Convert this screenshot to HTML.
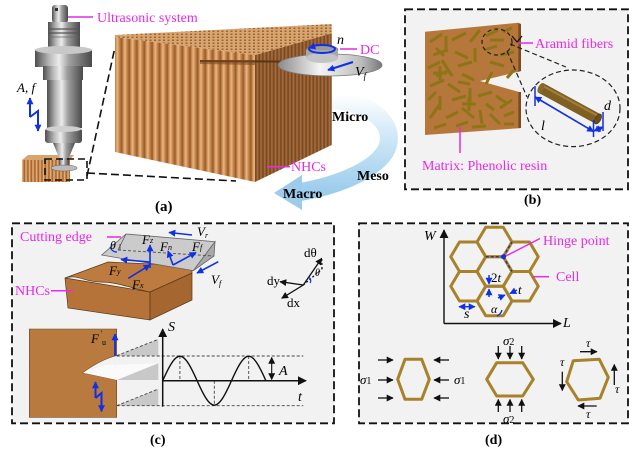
<!DOCTYPE html>
<html><head><meta charset="utf-8"><style>
html,body{margin:0;padding:0;background:#fff;}
svg{display:block;}
text{font-family:"Liberation Serif",serif;}
</style></head><body>
<svg width="639" height="452" viewBox="0 0 639 452" xmlns="http://www.w3.org/2000/svg">
<defs>
<marker id="ab" viewBox="0 0 10 10" refX="9" refY="5" markerUnits="userSpaceOnUse" markerWidth="7" markerHeight="7" orient="auto-start-reverse"><path d="M0,0L10,5L0,10z" fill="#1030e8"/></marker>
<marker id="ak" viewBox="0 0 10 10" refX="9" refY="5" markerUnits="userSpaceOnUse" markerWidth="7" markerHeight="7" orient="auto-start-reverse"><path d="M0,0L10,5L0,10z" fill="#111"/></marker>
<marker id="ak2" viewBox="0 0 10 10" refX="9" refY="5" markerUnits="userSpaceOnUse" markerWidth="9" markerHeight="9" orient="auto-start-reverse"><path d="M0,0L10,5L0,10z" fill="#111"/></marker>
<linearGradient id="metal" x1="0" x2="1" y1="0" y2="0">
<stop offset="0" stop-color="#4e4e4e"/><stop offset=".25" stop-color="#b8b8b8"/><stop offset=".42" stop-color="#ececec"/><stop offset=".6" stop-color="#a0a0a0"/><stop offset=".85" stop-color="#6a6a6a"/><stop offset="1" stop-color="#4a4a4a"/></linearGradient>
<linearGradient id="disk" x1="0" x2="1" y1="0" y2="0">
<stop offset="0" stop-color="#8a8a8a"/><stop offset=".4" stop-color="#f4f4f4"/><stop offset=".8" stop-color="#bdbdbd"/><stop offset="1" stop-color="#777"/></linearGradient>
<linearGradient id="stf" x1="0" x2="1" y1="0" y2="0">
<stop offset="0" stop-color="#8e5426"/><stop offset=".2" stop-color="#c98a4e"/><stop offset=".45" stop-color="#eab784"/><stop offset=".7" stop-color="#c7864a"/><stop offset="1" stop-color="#9a5e2d"/></linearGradient>
<linearGradient id="str" x1="0" x2="1" y1="0" y2="0">
<stop offset="0" stop-color="#7a4520"/><stop offset=".5" stop-color="#c58448"/><stop offset="1" stop-color="#8a5028"/></linearGradient>
<pattern id="pf" width="7.6" height="10" patternUnits="userSpaceOnUse"><rect width="7.6" height="10" fill="url(#stf)"/></pattern>
<pattern id="pr" width="3.6" height="10" patternUnits="userSpaceOnUse"><rect width="3.6" height="10" fill="url(#str)"/></pattern>
<pattern id="pt" width="4.5" height="3" patternUnits="userSpaceOnUse"><rect width="4.5" height="3" fill="#d9a56f"/><rect x="1" y="0.5" width="2" height="1.5" fill="#9c6535"/></pattern>
<pattern id="ps" width="3.5" height="10" patternUnits="userSpaceOnUse"><rect width="3.5" height="10" fill="url(#stf)"/></pattern>
<linearGradient id="sw" x1="0" y1="95" x2="0" y2="205" gradientUnits="userSpaceOnUse">
<stop offset="0" stop-color="#ffffff"/><stop offset=".3" stop-color="#d8ecf8"/><stop offset="1" stop-color="#8fc6ea"/></linearGradient>
</defs>

<!-- ================= PANEL A ================= -->
<path d="M330,100 C378,102 398,130 385,152 C372,172 335,186 300,192" fill="none" stroke="url(#sw)" stroke-width="18"/>
<polygon points="302,175 274,193 302,210" fill="#9ccbec"/>

<line x1="87" y1="176" x2="115" y2="47" stroke="#111" stroke-width="1.6" stroke-dasharray="8 4"/>
<line x1="87" y1="173" x2="236" y2="181" stroke="#111" stroke-width="1.6" stroke-dasharray="8 4"/>

<polygon points="255,55 331.7,33.3 331.7,145 255,182" fill="url(#pr)"/>
<polygon points="255,55 331.7,33.3 331.7,145 255,182" fill="#000" opacity="0.12"/>
<polygon points="115,37 255,55 255,182 115,152" fill="url(#pf)"/>
<polygon points="115,35 331.7,24 331.7,33.3 255,55 115,37" fill="url(#pt)"/>
<line x1="200" y1="61" x2="331" y2="62" stroke="#5a3518" stroke-width="2"/>
<polygon points="200,60 255,60 255,65 200,64" fill="#7a4a22" opacity="0.6"/>
<ellipse cx="330" cy="65" rx="52" ry="11" fill="url(#disk)" stroke="#777" stroke-width="0.8"/>
<ellipse cx="322" cy="50" rx="16" ry="5" fill="#9a9a9a" stroke="#666" stroke-width="0.6"/>
<rect x="306" y="50" width="32" height="8" fill="#a8a8a8"/>
<ellipse cx="322" cy="58" rx="16" ry="5" fill="#c4c4c4"/>
<ellipse cx="322" cy="49" rx="13" ry="4" fill="none" stroke="#1030e8" stroke-width="2"/>
<path d="M315,46 L309,48" stroke="#1030e8" stroke-width="2" marker-end="url(#ab)"/>
<line x1="353" y1="62" x2="328" y2="70" stroke="#1030e8" stroke-width="2.2" marker-end="url(#ab)"/>
<text x="337" y="44" font-size="14" font-style="italic">n</text>
<line x1="340" y1="49" x2="357" y2="49" stroke="#e62ae6" stroke-width="1.5"/>
<text x="360" y="54" font-size="14" fill="#e62ae6">DC</text>
<text x="355" y="76" font-size="14" font-style="italic">V<tspan font-size="9" dy="3">f</tspan></text>
<line x1="267" y1="166.7" x2="290" y2="166.7" stroke="#e62ae6" stroke-width="1.5"/>
<text x="291" y="171" font-size="14" fill="#e62ae6">NHCs</text>
<text x="332" y="121" font-size="14" font-weight="bold">Micro</text>
<text x="357" y="180" font-size="14" font-weight="bold">Meso</text>
<text x="283" y="198" font-size="14" font-weight="bold">Macro</text>
<text x="155" y="211" font-size="15" font-weight="bold">(a)</text>

<rect x="22" y="160" width="48" height="22" fill="url(#ps)"/>
<polygon points="22,160 28,155 74,155 70,160" fill="#d9a56f"/>
<rect x="52" y="5" width="16" height="18" rx="3" fill="url(#metal)"/>
<rect x="55" y="8" width="3" height="3" fill="#333"/>
<rect x="48" y="22" width="32" height="25" fill="url(#metal)"/>
<line x1="48" y1="29" x2="80" y2="29" stroke="#555" stroke-width="1.2"/>
<line x1="48" y1="33" x2="80" y2="33" stroke="#555" stroke-width="1.2"/>
<line x1="48" y1="37" x2="80" y2="37" stroke="#666" stroke-width="0.8"/>
<rect x="35" y="50" width="57" height="17" fill="url(#metal)"/>
<ellipse cx="63.5" cy="50" rx="28.5" ry="4" fill="#c8c8c8"/>
<rect x="43" y="66" width="40" height="14" fill="url(#metal)"/>
<rect x="47" y="80" width="35" height="48" fill="url(#metal)"/>
<rect x="45" y="128" width="37" height="15" rx="3" fill="url(#metal)"/>
<ellipse cx="63.5" cy="129" rx="18" ry="3" fill="#d0d0d0"/>
<polygon points="53,143 75,143 68,160 60,160" fill="url(#metal)"/>
<rect x="59" y="158" width="10" height="8" fill="url(#metal)"/>
<ellipse cx="64" cy="168" rx="13" ry="3" fill="#bbb" stroke="#666" stroke-width="0.6"/>
<rect x="45" y="159" width="42" height="21" fill="none" stroke="#111" stroke-width="1.6" stroke-dasharray="7 4"/>
<line x1="68" y1="17" x2="93" y2="17" stroke="#e62ae6" stroke-width="1.5"/>
<text x="97" y="22" font-size="14" fill="#e62ae6">Ultrasonic system</text>
<text x="17" y="92" font-size="13" font-style="italic">A, f</text>
<path d="M30,117 L30,98" stroke="#1030e8" stroke-width="2" fill="none" marker-end="url(#ab)"/>
<path d="M30,117 L38,111 L38,131" stroke="#1030e8" stroke-width="2" fill="none" marker-end="url(#ab)"/>

<!-- ================= PANEL B ================= -->
<rect x="405" y="9.3" width="223" height="180" fill="#f2f2f2" stroke="#111" stroke-width="1.8" stroke-dasharray="8 4"/>
<polygon points="518,22.7 521,24 521,71 518,72" fill="#7d4b20"/>
<polygon points="518,92 521,92 521,128 518,128.3" fill="#7d4b20"/>
<polygon points="425,31.7 518.3,22.7 518.3,71.7 480,81 518.3,91.7 518.3,128.3 425,135" fill="#b6773b"/>
<g stroke="#8d7417" stroke-width="3" stroke-linecap="butt">
<line x1="430" y1="42" x2="442" y2="34"/><line x1="446" y1="36" x2="446" y2="50"/><line x1="452" y1="40" x2="466" y2="33"/>
<line x1="470" y1="42" x2="480" y2="30"/><line x1="486" y1="36" x2="498" y2="30"/><line x1="503" y1="32" x2="512" y2="28"/>
<line x1="433" y1="55" x2="448" y2="50"/><line x1="455" y1="52" x2="468" y2="58"/><line x1="475" y1="48" x2="475" y2="62"/>
<line x1="484" y1="50" x2="497" y2="46"/><line x1="500" y1="55" x2="514" y2="52"/><line x1="428" y1="68" x2="440" y2="62"/>
<line x1="436" y1="76" x2="450" y2="70"/><line x1="442" y1="60" x2="452" y2="76"/><line x1="458" y1="66" x2="472" y2="62"/>
<line x1="462" y1="74" x2="474" y2="80"/><line x1="490" y1="62" x2="504" y2="66"/><line x1="430" y1="86" x2="444" y2="80"/>
<line x1="448" y1="84" x2="460" y2="92"/><line x1="440" y1="96" x2="440" y2="110"/><line x1="452" y1="100" x2="466" y2="96"/>
<line x1="470" y1="88" x2="470" y2="102"/><line x1="478" y1="96" x2="492" y2="92"/><line x1="496" y1="96" x2="508" y2="104"/>
<line x1="500" y1="108" x2="512" y2="100"/><line x1="430" y1="118" x2="440" y2="104"/><line x1="446" y1="118" x2="458" y2="112"/>
<line x1="462" y1="108" x2="474" y2="118"/><line x1="480" y1="110" x2="482" y2="124"/><line x1="490" y1="114" x2="500" y2="124"/>
<line x1="504" y1="116" x2="514" y2="112"/><line x1="434" y1="128" x2="446" y2="124"/><line x1="456" y1="126" x2="468" y2="122"/>
<line x1="472" y1="127" x2="486" y2="126"/><line x1="436" y1="48" x2="444" y2="56"/><line x1="458" y1="82" x2="470" y2="84"/>
<line x1="433" y1="73" x2="447" y2="73"/><line x1="440" y1="66" x2="440" y2="80"/>
<line x1="462" y1="104" x2="476" y2="104"/><line x1="469" y1="97" x2="469" y2="111"/>
<line x1="490" y1="40" x2="504" y2="40"/><line x1="486" y1="84" x2="492" y2="72"/>
<line x1="507" y1="78" x2="514" y2="70"/><line x1="428" y1="100" x2="436" y2="92"/>
<line x1="486" y1="104" x2="494" y2="110"/><line x1="504" y1="124" x2="514" y2="124"/>
</g>
<ellipse cx="497" cy="42" rx="15" ry="13" fill="none" stroke="#222" stroke-width="1.2" stroke-dasharray="4 3"/>
<path d="M512,36 L517,42 L522,36" fill="none" stroke="#111" stroke-width="1.2"/>
<line x1="510" y1="44" x2="566" y2="67" stroke="#222" stroke-width="1.2" stroke-dasharray="5 3"/>
<line x1="507" y1="51" x2="527" y2="97" stroke="#222" stroke-width="1.2" stroke-dasharray="5 3"/>
<ellipse cx="573" cy="108.3" rx="47" ry="38.3" fill="none" stroke="#222" stroke-width="1.2" stroke-dasharray="5 3"/>
<polygon points="543.6,83.2 600.6,114.2 595.4,123.8 538.4,92.8" fill="#7f5f22"/>
<line x1="542" y1="85.5" x2="599" y2="116.5" stroke="#a08040" stroke-width="2"/>
<ellipse cx="541" cy="88" rx="2.8" ry="5.5" transform="rotate(28.5 541 88)" fill="#8a6a2a"/>
<ellipse cx="598" cy="119" rx="2.8" ry="5.5" transform="rotate(28.5 598 119)" fill="#6a4e18" stroke="#4a3510" stroke-width="0.6"/>
<line x1="535" y1="86" x2="535" y2="106" stroke="#1030e8" stroke-width="1.5"/>
<line x1="593.5" y1="120" x2="593.5" y2="137" stroke="#1030e8" stroke-width="1.5"/>
<line x1="535" y1="97" x2="593.5" y2="131.5" stroke="#1030e8" stroke-width="1.6" marker-start="url(#ab)" marker-end="url(#ab)"/>
<line x1="603" y1="112" x2="603" y2="131" stroke="#1030e8" stroke-width="1.5"/>
<line x1="594" y1="131" x2="603" y2="127" stroke="#1030e8" stroke-width="1.4" marker-start="url(#ab)" marker-end="url(#ab)"/>
<text x="604" y="110" font-size="14" font-style="italic">d</text>
<text x="541" y="130" font-size="14" font-style="italic">l</text>
<line x1="518" y1="43" x2="533" y2="43" stroke="#e62ae6" stroke-width="1.5"/>
<text x="535" y="48" font-size="14" fill="#e62ae6">Aramid fibers</text>
<line x1="460" y1="127" x2="460" y2="153" stroke="#e62ae6" stroke-width="1.5"/>
<text x="422" y="170" font-size="14" fill="#e62ae6">Matrix: Phenolic resin</text>
<text x="524" y="204" font-size="14" font-weight="bold">(b)</text>

<!-- ================= PANEL C ================= -->
<rect x="12" y="223.3" width="322" height="200" fill="#f2f2f2" stroke="#111" stroke-width="1.8" stroke-dasharray="8 4"/>
<polygon points="65,278 150,292 150,320 68,308" fill="#b5733a" stroke="#5a3a1a" stroke-width="0.7"/>
<polygon points="150,292 192,273 192,300 150,320" fill="#a5662f" stroke="#5a3a1a" stroke-width="0.7"/>
<path d="M65,278 L108,262 L192,266 L192,273 L150,292 C130,288 118,282 100,282 C85,282 78,274 65,278 Z" fill="#bd7b3f" stroke="#5a3a1a" stroke-width="0.7"/>
<polygon points="126,234 215,241.7 193.3,270.7 101.7,255" fill="#cbcbcb" stroke="#666" stroke-width="0.8"/>
<polygon points="215,241.7 214,256 193.3,270.7" fill="#a9a9a9" stroke="#666" stroke-width="0.8"/>
<line x1="118" y1="250" x2="214" y2="256" stroke="#555" stroke-width="0.9" stroke-dasharray="3 2"/>
<line x1="126" y1="234" x2="118" y2="250" stroke="#555" stroke-width="0.8"/>
<line x1="120" y1="244" x2="120" y2="250" stroke="#333" stroke-width="0.8"/>
<path d="M110,247 Q112,252 117,252" fill="none" stroke="#1030e8" stroke-width="1.2"/>
<text x="110" y="249" font-size="12" font-style="italic">θ</text>
<g stroke="#1030e8" stroke-width="1.6" fill="none">
<line x1="150" y1="268" x2="150" y2="245" marker-end="url(#ab)"/>
<line x1="150" y1="262" x2="121" y2="259.5" marker-end="url(#ab)"/>
<line x1="128.3" y1="278.3" x2="150" y2="265" marker-end="url(#ab)"/>
<line x1="173" y1="265" x2="168" y2="251" marker-end="url(#ab)"/>
<line x1="173" y1="265" x2="196" y2="252.5" marker-end="url(#ab)"/>
<line x1="192" y1="235" x2="169" y2="232.5" marker-end="url(#ab)"/>
<line x1="218.3" y1="261.7" x2="197" y2="273" marker-end="url(#ab)"/>
</g>
<g font-size="13" font-style="italic">
<text x="142" y="244">F<tspan font-size="8" dy="-1">z</tspan></text>
<text x="109" y="275">F<tspan font-size="8" dy="-1">y</tspan></text>
<text x="132" y="289">F<tspan font-size="8" dy="-1">x</tspan></text>
<text x="160" y="251">F<tspan font-size="8" dy="-1">n</tspan></text>
<text x="192" y="251">F<tspan font-size="8" dy="-1">f</tspan></text>
<text x="197" y="236">V<tspan font-size="8" dy="2">r</tspan></text>
<text x="211" y="284">V<tspan font-size="8" dy="2">f</tspan></text>
</g>
<line x1="107" y1="237" x2="121" y2="237" stroke="#e62ae6" stroke-width="1.5"/>
<text x="20" y="241" font-size="14" fill="#e62ae6">Cutting edge</text>
<line x1="51" y1="290.7" x2="73" y2="290.7" stroke="#e62ae6" stroke-width="1.5"/>
<text x="15" y="295" font-size="14" fill="#e62ae6">NHCs</text>
<g stroke="#111" stroke-width="1.3" fill="none">
<line x1="303.3" y1="285" x2="321.7" y2="258.3" marker-end="url(#ak)"/>
<line x1="303.3" y1="285" x2="280" y2="281.7" marker-end="url(#ak)"/>
<line x1="303.3" y1="285" x2="281.7" y2="298.3" marker-end="url(#ak)"/>
<line x1="303.3" y1="285" x2="322" y2="269" stroke-dasharray="2 2"/>
<line x1="322" y1="269" x2="321.7" y2="259" stroke-dasharray="2 2"/>
</g>
<path d="M309,277 Q312,281 310,283" fill="none" stroke="#1030e8" stroke-width="1.2"/>
<text x="304" y="257" font-size="13">dθ</text>
<text x="315" y="276" font-size="10" font-style="italic">θ</text>
<text x="267" y="285" font-size="13">dy</text>
<text x="287" y="307" font-size="13">dx</text>
<path d="M29.3,329 L116.7,329 L116.7,355.5 Q100,360 82.7,372.7 L116.7,380 L116.7,417.3 L29.3,417.3 Z" fill="#b87a3e" stroke="#6a4420" stroke-width="0.6"/>
<polygon points="82.7,372.7 105,365 158.3,363.3 158.3,380 116.7,380" fill="#fafafa"/>
<polygon points="116.7,355.7 158.3,339.3 158.3,355.7" fill="#c8c8c8"/>
<polygon points="116.7,380 158.3,363.3 158.3,380" fill="#c8c8c8"/>
<polygon points="116.7,405.7 158.3,389 158.3,405.7" fill="#c8c8c8"/>
<g stroke="#444" stroke-width="0.9" stroke-dasharray="3 2" fill="none">
<line x1="116.7" y1="355.7" x2="158.3" y2="339.3"/>
<line x1="116.7" y1="405.7" x2="158.3" y2="389"/>
<line x1="116.7" y1="356" x2="303.3" y2="356"/>
<line x1="116.7" y1="405.7" x2="303.3" y2="405.7"/>
<line x1="179.9" y1="356" x2="179.9" y2="380.7"/>
<line x1="214.3" y1="380.7" x2="214.3" y2="405.7"/>
<line x1="248.7" y1="356" x2="248.7" y2="380.7"/>
</g>
<line x1="115" y1="356" x2="115" y2="334" stroke="#1030e8" stroke-width="1.8" marker-end="url(#ab)"/>
<text x="91" y="343" font-size="13" font-style="italic">F</text>
<text x="101" y="336" font-size="8">'</text>
<text x="102" y="345" font-size="8">u</text>
<path d="M95.5,398 L95.5,382" stroke="#1030e8" stroke-width="2" fill="none" marker-end="url(#ab)"/>
<path d="M95.5,398 L101.5,393 L101.5,411.5" stroke="#1030e8" stroke-width="2" fill="none" marker-end="url(#ab)"/>
<line x1="162.7" y1="406.7" x2="162.7" y2="329" stroke="#111" stroke-width="1.5" marker-end="url(#ak2)"/>
<line x1="162.7" y1="380.7" x2="306" y2="380.7" stroke="#111" stroke-width="1.5" marker-end="url(#ak2)"/>
<path d="M162.7,380.7 C168.3,368.2 174.05,356.2 179.9,356.2 C185.75,356.2 191.5,368.2 197.1,380.7 C202.7,393.2 208.45,405.2 214.3,405.2 C220.15,405.2 225.9,393.2 231.5,380.7 C237.1,368.2 242.85,356.2 248.7,356.2 C254.55,356.2 260.3,368.2 265.9,380.7" fill="none" stroke="#111" stroke-width="1.4"/>
<line x1="271.7" y1="357.5" x2="271.7" y2="379.5" stroke="#111" stroke-width="1.1" marker-start="url(#ak)" marker-end="url(#ak)"/>
<text x="168" y="331" font-size="14" font-style="italic">S</text>
<text x="298" y="401" font-size="14" font-style="italic">t</text>
<text x="279" y="375" font-size="14" font-style="italic">A</text>
<text x="150" y="444" font-size="14" font-weight="bold">(c)</text>

<!-- ================= PANEL D ================= -->
<rect x="359" y="223.3" width="269" height="200" fill="#f2f2f2" stroke="#111" stroke-width="1.8" stroke-dasharray="8 4"/>
<line x1="444" y1="323.5" x2="444" y2="230" stroke="#111" stroke-width="1.4" marker-end="url(#ak2)"/>
<line x1="444" y1="323.5" x2="561" y2="323.5" stroke="#111" stroke-width="1.4" marker-end="url(#ak2)"/>
<text x="424" y="240" font-size="14" font-style="italic">W</text>
<text x="563" y="327" font-size="14" font-style="italic">L</text>
<g fill="none" stroke="#a8822a" stroke-width="3" stroke-linejoin="round">
<polygon points="485.75,227.25 503.25,227.25 512,242 503.25,256.75 485.75,256.75 477,242"/>
<polygon points="485.75,256.75 503.25,256.75 512,271.5 503.25,286.25 485.75,286.25 477,271.5"/>
<polygon points="485.75,286.25 503.25,286.25 512,301 503.25,315.75 485.75,315.75 477,301"/>
<polygon points="459.5,242 477,242 485.75,256.75 477,271.5 459.5,271.5 450.75,256.75"/>
<polygon points="459.5,271.5 477,271.5 485.75,286.25 477,301 459.5,301 450.75,286.25"/>
<polygon points="512,242 529.5,242 538.25,256.75 529.5,271.5 512,271.5 503.25,256.75"/>
<polygon points="512,271.5 529.5,271.5 538.25,286.25 529.5,301 512,301 503.25,286.25"/>
</g>
<g stroke="#2a2a8a" stroke-width="1.3" stroke-dasharray="3 2" fill="none">
<line x1="485.75" y1="256.75" x2="503.25" y2="256.75"/>
<line x1="503.25" y1="256.75" x2="512" y2="242"/>
<line x1="503.25" y1="256.75" x2="512" y2="271.5"/>
</g>
<line x1="540" y1="238.5" x2="505" y2="256.5" stroke="#e62ae6" stroke-width="1.4"/>
<circle cx="503.5" cy="256.75" r="2.5" fill="#1030e8"/>
<text x="543" y="245" font-size="14" fill="#e62ae6">Hinge point</text>
<line x1="533" y1="276.7" x2="549" y2="276.7" stroke="#e62ae6" stroke-width="1.5"/>
<text x="556" y="281" font-size="14" fill="#e62ae6">Cell</text>
<g stroke="#1030e8" stroke-width="1.4" fill="none">
<line x1="489" y1="275" x2="489" y2="284" marker-end="url(#ab)"/>
<line x1="489" y1="297" x2="489" y2="289" marker-end="url(#ab)"/>
<line x1="498" y1="298" x2="505" y2="295" marker-end="url(#ab)"/>
<line x1="517" y1="290" x2="510" y2="293.5" marker-end="url(#ab)"/>
<line x1="459" y1="306.7" x2="475" y2="306.7" marker-start="url(#ab)" marker-end="url(#ab)"/>
<path d="M497,316 Q501,314 502,310"/>
</g>
<text x="491" y="282" font-size="13">2<tspan font-style="italic">t</tspan></text>
<text x="518" y="294" font-size="13" font-style="italic">t</text>
<text x="464" y="318" font-size="14" font-style="italic">s</text>
<text x="491" y="313" font-size="12" font-style="italic">α</text>
<polygon points="405,359.3 421.7,359.3 429.3,379.3 421.7,399.3 405,399.3 397.7,379.3" fill="none" stroke="#a8822a" stroke-width="3" stroke-linejoin="round"/>
<g stroke="#111" stroke-width="1.3">
<line x1="378" y1="360" x2="393" y2="360" marker-end="url(#ak)"/>
<line x1="378" y1="380" x2="393" y2="380" marker-end="url(#ak)"/>
<line x1="378" y1="398" x2="393" y2="398" marker-end="url(#ak)"/>
<line x1="449" y1="360" x2="434" y2="360" marker-end="url(#ak)"/>
<line x1="449" y1="380" x2="434" y2="380" marker-end="url(#ak)"/>
<line x1="449" y1="398" x2="434" y2="398" marker-end="url(#ak)"/>
</g>
<text x="360" y="384" font-size="13" font-style="italic">σ<tspan font-style="normal" font-size="10">1</tspan></text>
<text x="454" y="384" font-size="13" font-style="italic">σ<tspan font-style="normal" font-size="10">1</tspan></text>
<polygon points="496.7,362.7 522.7,362.7 533.3,379.3 522.7,396 496.7,396 486.7,379.3" fill="none" stroke="#a8822a" stroke-width="3" stroke-linejoin="round"/>
<g stroke="#111" stroke-width="1.3">
<line x1="498.3" y1="346" x2="498.3" y2="359" marker-end="url(#ak)"/>
<line x1="510" y1="346" x2="510" y2="359" marker-end="url(#ak)"/>
<line x1="521.7" y1="346" x2="521.7" y2="359" marker-end="url(#ak)"/>
<line x1="498.3" y1="412" x2="498.3" y2="399.5" marker-end="url(#ak)"/>
<line x1="510" y1="412" x2="510" y2="399.5" marker-end="url(#ak)"/>
<line x1="521.7" y1="412" x2="521.7" y2="399.5" marker-end="url(#ak)"/>
</g>
<text x="503" y="345" font-size="13" font-style="italic">σ<tspan font-style="normal" font-size="10">2</tspan></text>
<text x="503" y="423" font-size="13" font-style="italic">σ<tspan font-style="normal" font-size="10">2</tspan></text>
<polygon points="573.3,360.7 599.3,359.3 608.3,377.3 600,398.3 578.3,400 566.7,381.7" fill="none" stroke="#a8822a" stroke-width="3" stroke-linejoin="round"/>
<g stroke="#111" stroke-width="1.3">
<line x1="580" y1="351.7" x2="597" y2="351.7" marker-end="url(#ak)"/>
<line x1="562.3" y1="371.7" x2="562.3" y2="390.5" marker-end="url(#ak)"/>
<line x1="614.3" y1="385" x2="614.3" y2="364.5" marker-end="url(#ak)"/>
<line x1="596.7" y1="406" x2="578" y2="406" marker-end="url(#ak)"/>
</g>
<g font-size="12" font-style="italic">
<text x="586" y="347">τ</text>
<text x="560" y="366">τ</text>
<text x="615" y="393">τ</text>
<text x="586" y="418">τ</text>
</g>
<text x="485" y="444" font-size="14" font-weight="bold">(d)</text>
</svg>
</body></html>
